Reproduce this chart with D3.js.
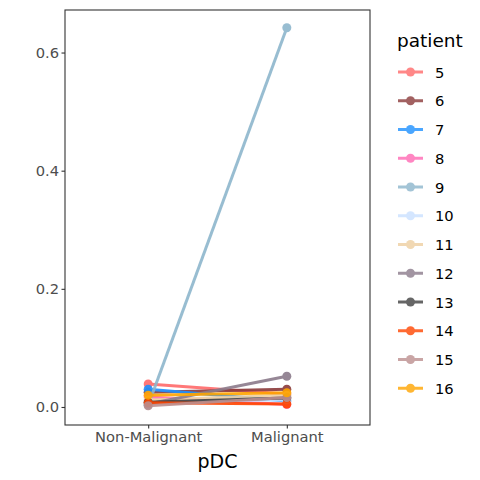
<!DOCTYPE html>
<html>
<head>
<meta charset="utf-8">
<script src="https://cdn.jsdelivr.net/npm/d3@7"></script>
<style>
  body { margin: 0; background: #fff; }
  text { font-family: "DejaVu Sans", sans-serif; }
</style>
</head>
<body>
<div id="chart"></div>
<script>
// data
var categories = ["Non-Malignant", "Malignant"];
var patients = ["5", "6", "7", "8", "9", "10", "11", "12", "13", "14", "15", "16"];
var nonMalignant = [0.039, 0.025, 0.030, 0.017, 0.003, 0.010, 0.012, 0.005, 0.008, 0.007, 0.002, 0.020];
var malignant    = [0.022, 0.030, 0.010, 0.004, 0.642, 0.012, 0.020, 0.052, 0.015, 0.005, 0.016, 0.024];
var colors = ["#FF6A6A", "#8B3A3A", "#1E90FF", "#FF69B4", "#8DB6CD", "#CAE1FF",
              "#EECFA1", "#8B7B8B", "#404040", "#FF4500", "#BC8F8F", "#FFA500"];
var yTicks = [0, 0.2, 0.4, 0.6];

var W = 480, H = 480;
var panel = {left: 65, right: 370, top: 10, bottom: 425};

var svg = d3.select("#chart").append("svg")
  .attr("width", W).attr("height", H);

var x = d3.scalePoint().domain(categories)
  .range([panel.left, panel.right]).padding(0.6);
var y = d3.scaleLinear().domain([-0.0305, 0.672])
  .range([panel.bottom, panel.top]);

// panel border
svg.append("rect")
  .attr("x", panel.left).attr("y", panel.top)
  .attr("width", panel.right - panel.left)
  .attr("height", panel.bottom - panel.top)
  .attr("fill", "none").attr("stroke", "#333").attr("stroke-width", 1.1);

// axes
var yAxis = svg.append("g")
  .attr("transform", "translate(" + panel.left + ",0)")
  .call(d3.axisLeft(y).tickValues(yTicks).tickFormat(d3.format(".1f")).tickSize(3.5).tickSizeOuter(0));
var xAxis = svg.append("g")
  .attr("transform", "translate(0," + panel.bottom + ")")
  .call(d3.axisBottom(x).tickSize(3.5).tickSizeOuter(0));
[yAxis, xAxis].forEach(function(a) {
  a.select(".domain").remove();
  a.selectAll(".tick line").attr("stroke", "#333").attr("stroke-width", 1.1);
  a.selectAll(".tick text").attr("fill", "#4d4d4d").style("font-size", "14.7px")
    .style("font-family", "DejaVu Sans, sans-serif");
});
yAxis.selectAll(".tick text").attr("x", -6);
xAxis.selectAll(".tick text").attr("y", 7);

svg.append("text")
  .attr("x", (panel.left + panel.right) / 2).attr("y", 468)
  .attr("text-anchor", "middle").style("font-size", "19px").attr("fill", "#000")
  .text("pDC");

// lines + points
var series = patients.map(function(p, i) {
  return {id: p, color: colors[i], values: [nonMalignant[i], malignant[i]]};
});
var line = d3.line()
  .x(function(d, i) { return x(categories[i]); })
  .y(function(d) { return y(d); });

var g = svg.selectAll(".series").data(series).enter().append("g")
  .attr("opacity", 0.9);
g.append("path")
  .attr("d", function(d) { return line(d.values); })
  .attr("fill", "none").attr("stroke", function(d) { return d.color; })
  .attr("stroke-width", 3);
g.selectAll("circle").data(function(d) {
    return d.values.map(function(v, i) { return {v: v, i: i, color: d.color}; });
  }).enter().append("circle")
  .attr("cx", function(d) { return x(categories[d.i]); })
  .attr("cy", function(d) { return y(d.v); })
  .attr("r", 4.5)
  .attr("fill", function(d) { return d.color; });

// legend
var leg = svg.append("g");
leg.append("text").attr("x", 397).attr("y", 47)
  .style("font-size", "18.5px").attr("fill", "#000").text("patient");
var item = leg.selectAll(".item").data(series).enter().append("g")
  .attr("transform", function(d, i) { return "translate(0," + (72 + i * 28.75) + ")"; })
  .attr("opacity", 0.8);
item.append("line").attr("x1", 398).attr("x2", 423)
  .attr("stroke", function(d) { return d.color; }).attr("stroke-width", 3);
item.append("circle").attr("cx", 410.5).attr("cy", 0).attr("r", 4.5)
  .attr("fill", function(d) { return d.color; });
leg.selectAll(".lab").data(series).enter().append("text")
  .attr("x", 435).attr("y", function(d, i) { return 72 + i * 28.75 + 5.5; })
  .style("font-size", "14.7px").attr("fill", "#000")
  .text(function(d) { return d.id; });
</script>
</body>
</html>
